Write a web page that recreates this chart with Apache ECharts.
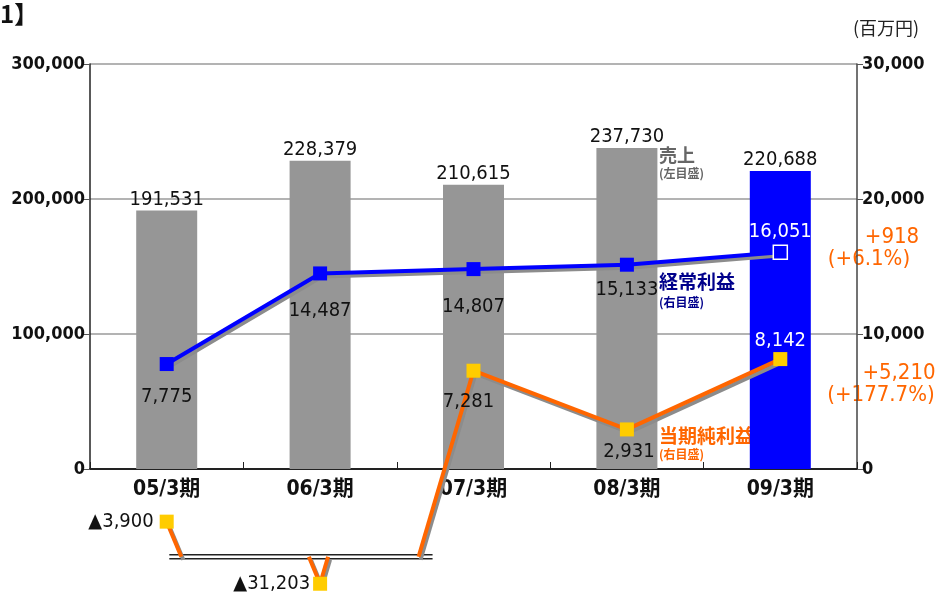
<!DOCTYPE html>
<html>
<head>
<meta charset="utf-8">
<script src="https://cdn.jsdelivr.net/npm/echarts@6/dist/echarts.min.js"></script>
<style>
  html, body { margin: 0; padding: 0; background: #fff; }
  #chart { width: 937px; height: 594px; }
</style>
</head>
<body>
<div id="chart"></div>
<script>
// データ（百万円）
const categories = ["05/3期", "06/3期", "07/3期", "08/3期", "09/3期"];
const sales = [191531, 228379, 210615, 237730, 220688];          // 売上（左目盛）
const ordinaryIncome = [7775, 14487, 14807, 15133, 16051];       // 経常利益（右目盛）
const netIncome = [-3900, -31203, 7281, 2931, 8142];             // 当期純利益（右目盛）
const leftTicks = [0, 100000, 200000, 300000];
const rightTicks = [0, 10000, 20000, 30000];

// 省略線（右目盛の値で位置を決める）
const BREAK_VALUE = -6500;   // 省略線の位置
const SHOWN_BELOW = -8500;   // 省略線より下の値を描く位置

// ラベル位置（点からのずれ）
const ordinaryLabelDy = [33, 37, 38, 25, -21];
const netLabelPos = [[-13, 0, "right"], [-10, 0, "right"], [-5, 31, "center"], [2, 22, "center"], [0, -18, "center"]];

const FONT = "'DejaVu Sans Condensed','Liberation Sans Narrow','Noto Sans CJK JP',sans-serif";
const JP = "'Noto Sans CJK JP',sans-serif";
const fmt = v => Math.abs(v).toLocaleString("en-US");

const chart = echarts.init(document.getElementById("chart"));

function netRender(params, api) {
  const i = params.dataIndex;
  const n = netIncome.length;
  const children = [];
  const real = k => api.coord([k, netIncome[k]]);
  const low = k => netIncome[k] < BREAK_VALUE;
  const shown = k => (low(k) ? api.coord([k, SHOWN_BELOW]) : real(k));
  const breakY = api.coord([0, BREAK_VALUE])[1];

  // 線分をひとつ描く（影つき）
  const seg = (p, q) => {
    children.push({
      type: "line", z2: 1,
      shape: { x1: p[0] + 2, y1: p[1] + 3, x2: q[0] + 2, y2: q[1] + 3 },
      style: { stroke: "#8c8c8c", lineWidth: 4 }
    });
    children.push({
      type: "line", z2: 2,
      shape: { x1: p[0], y1: p[1], x2: q[0], y2: q[1] },
      style: { stroke: "#ff6600", lineWidth: 4 }
    });
  };
  // 省略線との交点
  const cross = (hiIdx, loIdx) => {
    const hi = real(hiIdx), lo = real(loIdx);
    const t = (breakY - hi[1]) / (lo[1] - hi[1]);
    return hi[0] + t * (lo[0] - hi[0]);
  };

  if (i < n - 1) {
    const a = real(i), b = real(i + 1);
    if (!low(i) && !low(i + 1)) {
      seg(a, b);
    } else if (low(i) !== low(i + 1)) {
      const hiIdx = low(i) ? i + 1 : i;
      const loIdx = low(i) ? i : i + 1;
      const hi = real(hiIdx), lo = real(loIdx);
      seg(hi, [cross(hiIdx, loIdx), breakY]);
      const d = shown(loIdx);
      const k = (lo[0] - hi[0]) / (lo[1] - hi[1]);
      seg([d[0] + (breakY - d[1]) * k, breakY], d);
    }
  }

  if (low(i)) {
    const xl = i > 0 && !low(i - 1) ? cross(i - 1, i) - 12 : real(i)[0] - 40;
    const xr = i < n - 1 && !low(i + 1) ? cross(i + 1, i) + 14 : real(i)[0] + 40;
    [-2, 2].forEach(dy => {
      children.push({
        type: "line", z2: 0,
        shape: { x1: xl, y1: breakY + dy, x2: xr, y2: breakY + dy },
        style: { stroke: "#222", lineWidth: 1.5 }
      });
    });
  }

  const p = shown(i);
  children.push({
    type: "rect", z2: 10,
    shape: { x: p[0] - 7, y: p[1] - 7, width: 14, height: 14 },
    style: { fill: "#ffcc00" }
  });
  const lp = netLabelPos[i];
  children.push({
    type: "text", z2: 11,
    x: p[0] + lp[0], y: p[1] + lp[1],
    style: {
      text: (netIncome[i] < 0 ? "▲" : "") + fmt(netIncome[i]),
      fill: i === n - 1 ? "#fff" : "#111",
      font: "20px " + FONT,
      align: lp[2], verticalAlign: "middle"
    }
  });
  return { type: "group", children: children };
}

// 注記テキスト（位置指定）
const note = (x, y, text, size, color, weight, family, align) => ({
  type: "text", x: x, y: y,
  style: {
    text: text, fill: color, align: align || "left", verticalAlign: "middle",
    font: (weight || "bold") + " " + size + "px " + (family || JP)
  }
});

chart.setOption({
  animation: false,
  backgroundColor: "#fff",
  grid: { left: 90, right: 80, top: 64, bottom: 125, containLabel: false, outerBoundsMode: "none" },
  xAxis: {
    type: "category",
    data: categories,
    axisLine: { lineStyle: { color: "#222", width: 2 } },
    axisTick: { show: true, inside: true, length: 7, lineStyle: { color: "#222" } },
    axisLabel: { color: "#111", fontSize: 21, fontWeight: "bold", fontFamily: FONT, margin: 10 },
    splitLine: { show: false }
  },
  yAxis: [
    {
      type: "value", position: "left",
      min: leftTicks[0], max: leftTicks[leftTicks.length - 1], interval: leftTicks[1] - leftTicks[0],
      axisLine: { show: true, lineStyle: { color: "#222", width: 1.5 } },
      axisTick: { show: true, length: 6, lineStyle: { color: "#555" } },
      splitLine: { show: true, lineStyle: { color: "#9a9a9a", width: 1.5 } },
      axisLabel: { color: "#111", fontSize: 18, fontWeight: "bold", fontFamily: FONT, margin: 5, formatter: v => fmt(v) }
    },
    {
      type: "value", position: "right",
      min: rightTicks[0], max: rightTicks[rightTicks.length - 1], interval: rightTicks[1] - rightTicks[0],
      axisLine: { show: true, lineStyle: { color: "#444", width: 1.5 } },
      axisTick: { show: true, length: 6, lineStyle: { color: "#555" } },
      splitLine: { show: false },
      axisLabel: { color: "#111", fontSize: 18, fontWeight: "bold", fontFamily: FONT, margin: 5, formatter: v => fmt(v) }
    }
  ],
  series: [
    {
      name: "売上", type: "bar", yAxisIndex: 0, barWidth: 61, z: 1,
      data: sales.map((v, i) => ({
        value: v,
        itemStyle: { color: i === sales.length - 1 ? "#0000ff" : "#969696" }
      })),
      label: {
        show: true, position: "top", distance: 1, color: "#111",
        fontSize: 20, fontFamily: FONT, formatter: p => fmt(p.value)
      }
    },
    {
      name: "経常利益", type: "line", yAxisIndex: 1, z: 3,
      symbol: "rect", symbolSize: 14,
      lineStyle: { color: "#0000ff", width: 4, shadowColor: "#8c8c8c", shadowBlur: 0, shadowOffsetX: 2, shadowOffsetY: 3 },
      itemStyle: { color: "#0000ff" },
      data: ordinaryIncome.map((v, i) => {
        const last = i === ordinaryIncome.length - 1;
        return {
          value: v,
          itemStyle: last ? { color: "#0000ff", borderColor: "#fff", borderWidth: 1.5 } : undefined,
          label: {
            show: true, position: "inside", offset: [0, ordinaryLabelDy[i]],
            color: last ? "#fff" : "#111", fontSize: 20, fontFamily: FONT,
            formatter: p => fmt(p.value)
          }
        };
      })
    },
    {
      name: "当期純利益", type: "custom", yAxisIndex: 1, z: 4, clip: false,
      renderItem: netRender,
      encode: { x: 0, y: 1 },
      data: netIncome.map((v, i) => [i, v])
    }
  ],
  graphic: [
    note(0, 14, "1】", 24, "#111"),
    note(886, 28, "(百万円)", 18, "#222", "normal", JP, "center"),
    note(659, 155, "売上", 18, "#666"),
    note(659, 173, "(左目盛)", 12, "#666"),
    note(659, 282, "経常利益", 19, "#00008b"),
    note(659, 302, "(右目盛)", 12, "#00008b"),
    note(659, 436, "当期純利益", 19, "#ff6600"),
    note(659, 454, "(右目盛)", 12, "#ff6600"),
    note(892, 237, "+918", 22, "#ff6600", "normal", FONT, "center"),
    note(869, 259, "(+6.1%)", 22, "#ff6600", "normal", FONT, "center"),
    note(899, 373, "+5,210", 22, "#ff6600", "normal", FONT, "center"),
    note(881, 395, "(+177.7%)", 22, "#ff6600", "normal", FONT, "center")
  ]
});
</script>
</body>
</html>
